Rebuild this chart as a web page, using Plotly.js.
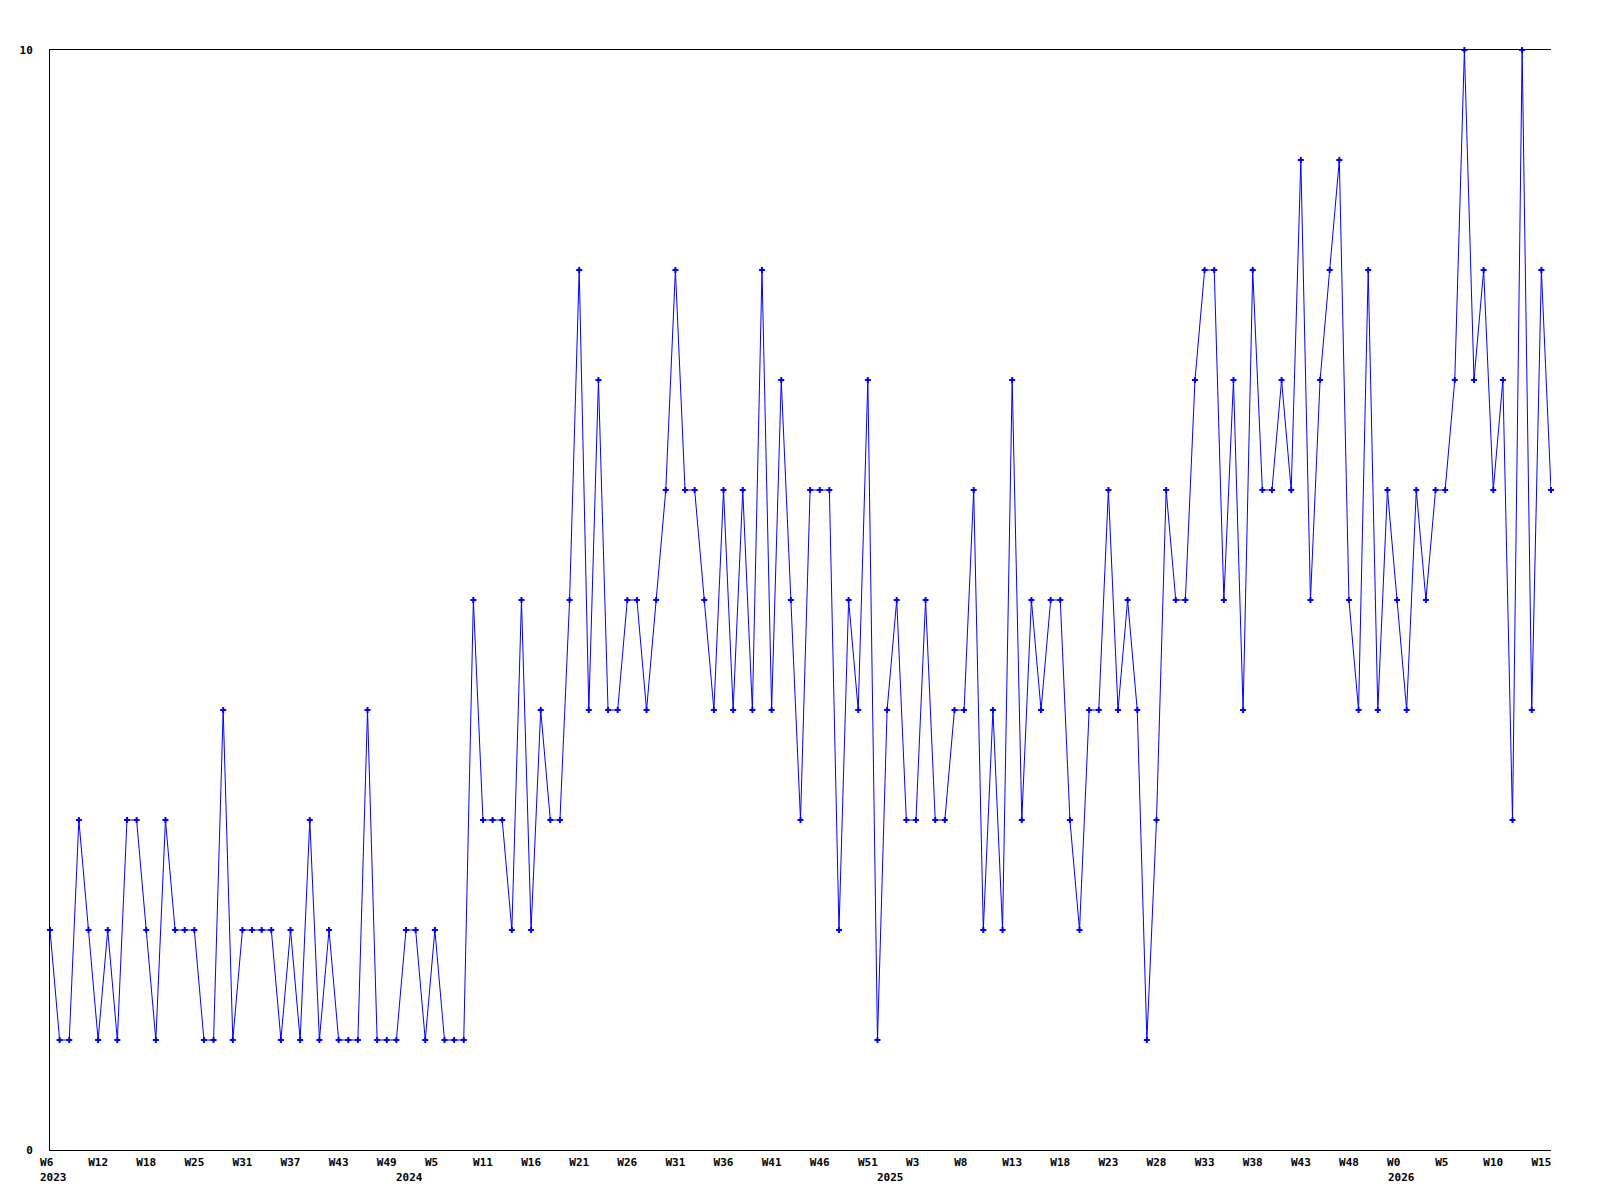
<!DOCTYPE html>
<html>
<head>
<meta charset="utf-8">
<script src="https://cdn.plot.ly/plotly-3.0.1.min.js"></script>
<style>
  html, body { margin: 0; padding: 0; background: #ffffff; }
  #chart { width: 1600px; height: 1200px; }
</style>
</head>
<body>
<div id="chart"></div>
<script>
// Weekly values (one per point, in order)
const values = [
  2, 1, 1, 3, 2, 1, 2, 1, 3, 3,
  2, 1, 3, 2, 2, 2, 1, 1, 4, 1,
  2, 2, 2, 2, 1, 2, 1, 3, 1, 2,
  1, 1, 1, 4, 1, 1, 1, 2, 2, 1,
  2, 1, 1, 1, 5, 3, 3, 3, 2, 5,
  2, 4, 3, 3, 5, 8, 4, 7, 4, 4,
  5, 5, 4, 5, 6, 8, 6, 6, 5, 4,
  6, 4, 6, 4, 8, 4, 7, 5, 3, 6,
  6, 6, 2, 5, 4, 7, 1, 4, 5, 3,
  3, 5, 3, 3, 4, 4, 6, 2, 4, 2,
  7, 3, 5, 4, 5, 5, 3, 2, 4, 4,
  6, 4, 5, 4, 1, 3, 6, 5, 5, 7,
  8, 8, 5, 7, 4, 8, 6, 6, 7, 6,
  9, 5, 7, 8, 9, 5, 4, 8, 4, 6,
  5, 4, 6, 5, 6, 6, 7, 10, 7, 8,
  6, 7, 3, 10, 4, 8, 6
];

// Week tick labels (every 5th point)
const weekLabels = [
  'W6', 'W12', 'W18', 'W25', 'W31', 'W37', 'W43', 'W49',
  'W5', 'W11', 'W16', 'W21', 'W26', 'W31', 'W36', 'W41', 'W46', 'W51',
  'W3', 'W8', 'W13', 'W18', 'W23', 'W28', 'W33', 'W38', 'W43', 'W48',
  'W0', 'W5', 'W10', 'W15'
];
const weekTickStep = 5;

// Year labels and the point position where each year begins
const yearLabels = ['2023', '2024', '2025', '2026'];
const yearStarts = [0.4, 37.4, 87.4, 140.5];

const yTickValues = [0, 10];
const yTickLabels = ['0', '10'];

const xIdx = values.map((_, i) => i);
const tickVals = weekLabels.map((_, i) => i * weekTickStep);
// labels in the original start at the tick (left-aligned); pad short ones
const padLabel = s => s.length < 3 ? s + '\u00a0'.repeat(3 - s.length) : s;

const font = { family: '"DejaVu Sans Mono", "Liberation Mono", monospace', size: 11, color: '#000000', weight: 'bold' };

const trace = {
  type: 'scatter',
  mode: 'lines+markers',
  x: xIdx,
  y: values,
  line: { color: '#0000ff', width: 1 },
  marker: { color: '#0000ff', symbol: 'cross', size: 5 },
  cliponaxis: false,
  hoverinfo: 'skip'
};

const annotations = yearLabels.map((t, i) => ({
  text: '<b>' + t + '</b>',
  x: yearStarts[i],
  xref: 'x',
  y: 0,
  yref: 'paper',
  yanchor: 'top',
  xanchor: 'center',
  yshift: -19,
  showarrow: false,
  font: font
}));

const layout = {
  width: 1600,
  height: 1200,
  margin: { l: 50, r: 49, t: 50, b: 50 },
  paper_bgcolor: '#ffffff',
  plot_bgcolor: '#ffffff',
  showlegend: false,
  font: font,
  xaxis: {
    range: [0, values.length - 1],
    showgrid: false,
    zeroline: false,
    showline: true,
    linecolor: '#000000',
    linewidth: 1,
    mirror: true,
    ticks: 'outside',
    ticklen: 2,
    tickcolor: 'rgba(0,0,0,0)',
    tickvals: tickVals,
    ticktext: weekLabels.map(s => '<b>' + padLabel(s) + '</b>'),
    tickfont: font,
    fixedrange: true
  },
  yaxis: {
    range: [0, 10],
    showgrid: false,
    zeroline: false,
    showline: true,
    linecolor: '#000000',
    linewidth: 1,
    mirror: false,
    ticks: 'outside',
    ticklen: 14,
    tickcolor: 'rgba(0,0,0,0)',
    tickvals: yTickValues,
    ticktext: yTickLabels.map(s => '<b>' + s + '</b>'),
    tickfont: font,
    fixedrange: true
  },
  annotations: annotations
};

Plotly.newPlot('chart', [trace], layout, { displayModeBar: false, staticPlot: true });
</script>
</body>
</html>
